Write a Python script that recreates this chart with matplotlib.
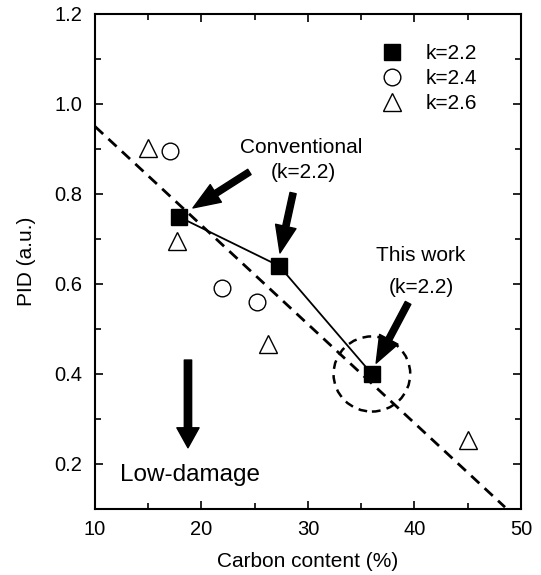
import matplotlib
matplotlib.use("Agg")
import matplotlib.pyplot as plt
from matplotlib.patches import Ellipse
import numpy as np

plt.rcParams["font.family"] = ["Liberation Sans", "DejaVu Sans"]

# data
k22_x = [17.9, 27.3, 36.0]
k22_y = [0.749, 0.640, 0.400]
k24_x = [17.0, 21.9, 25.2]
k24_y = [0.896, 0.591, 0.560]
k26_x = [15.0, 17.7, 26.2, 45.0]
k26_y = [0.902, 0.696, 0.467, 0.253]
trend_x = [10.0, 48.5]
trend_y = [0.95, 0.104]

fig = plt.figure(figsize=(5.41, 5.75), dpi=100)
ax = fig.add_axes([0.1756, 0.1148, 0.7874, 0.8609])

ax.plot(trend_x, trend_y, color="black", lw=2.0, ls=(0, (4, 2.6)), zorder=1)
ax.plot(k22_x, k22_y, color="black", lw=1.3, zorder=2)
ax.plot(k22_x, k22_y, ls="none", marker="s", ms=11.5, mfc="black", mec="black",
        label="k=2.2", zorder=3)
ax.plot(k24_x, k24_y, ls="none", marker="o", ms=12, mfc="white", mec="black",
        mew=1.0, label="k=2.4", zorder=3)
ax.plot(k26_x, k26_y, ls="none", marker="^", ms=13.5, mfc="white", mec="black",
        mew=1.0, label="k=2.6", zorder=3)

# dashed circle round "this work"
ax.add_patch(Ellipse((k22_x[2], k22_y[2]), 7.2, 0.167, fill=False, ec="black",
                     lw=1.8, ls=(0, (3.5, 2.5)), zorder=2))

arrow = dict(arrowstyle="simple,head_length=1.3,head_width=1.0,tail_width=0.3",
             mutation_scale=15, fc="black", ec="black", shrinkA=0, shrinkB=0)
ax.annotate("", xy=(19.2, 0.769), xytext=(24.5, 0.849), arrowprops=arrow)
ax.annotate("", xy=(27.37, 0.669), xytext=(28.6, 0.802), arrowprops=arrow)
ax.annotate("", xy=(36.4, 0.424), xytext=(39.4, 0.558), arrowprops=arrow)
big = dict(arrowstyle="simple,head_length=0.9,head_width=1.0,tail_width=0.33",
           mutation_scale=16, fc="black", ec="black", shrinkA=0, shrinkB=0)
ax.annotate("", xy=(18.73, 0.236), xytext=(18.73, 0.431), arrowprops=big)

ax.text(29.34, 0.904, "Conventional", fontsize=15, ha="center", va="center")
ax.text(29.53, 0.847, "(k=2.2)", fontsize=15, ha="center", va="center")
ax.text(40.6, 0.664, "This work", fontsize=15, ha="center", va="center")
ax.text(40.6, 0.593, "(k=2.2)", fontsize=15, ha="center", va="center")
ax.text(18.9, 0.176, "Low-damage", fontsize=17.5, ha="center", va="center")

ax.legend(loc="upper right", frameon=False, fontsize=15, handletextpad=0.6,
          labelspacing=0.3, borderaxespad=0.8, bbox_to_anchor=(0.955, 0.99))

ax.set_xlim(10, 50)
ax.set_ylim(0.1, 1.2)
ax.set_xticks([10, 20, 30, 40, 50])
ax.set_yticks([0.2, 0.4, 0.6, 0.8, 1.0, 1.2])
ax.set_xticks(np.arange(15, 50, 10), minor=True)
ax.set_yticks(np.arange(0.3, 1.2, 0.2), minor=True)
ax.yaxis.set_major_formatter(matplotlib.ticker.FormatStrFormatter("%.1f"))
ax.tick_params(which="both", direction="in", top=True, right=True,
               labelsize=14.5, width=1.2)
ax.tick_params(which="major", length=6)
ax.tick_params(axis="y", which="major", pad=9)
ax.tick_params(axis="x", which="major", pad=8)
ax.tick_params(which="minor", length=4)
for s in ax.spines.values():
    s.set_linewidth(1.5)

ax.set_xlabel("Carbon content (%)", fontsize=15, labelpad=9)
ax.set_ylabel("PID (a.u.)", fontsize=15, labelpad=13)

fig.savefig("out.png", dpi=100)
